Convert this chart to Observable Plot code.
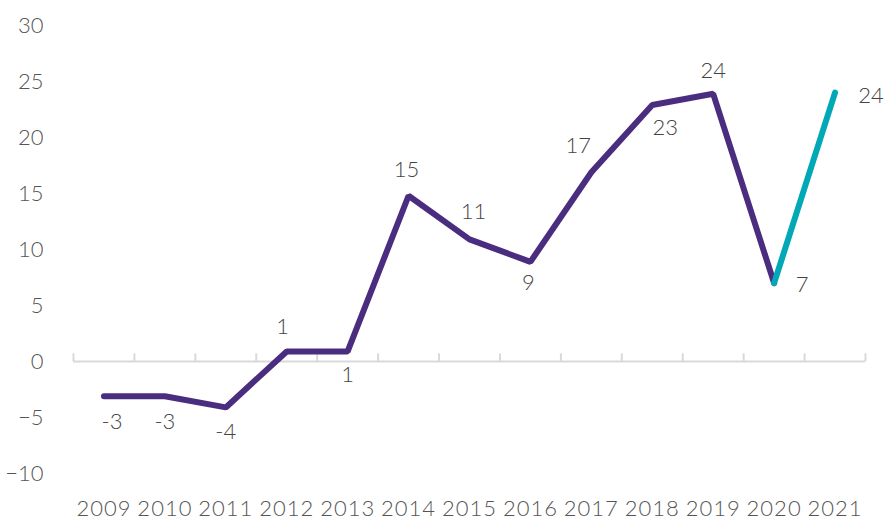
<!DOCTYPE html>
<html>
<head>
<meta charset="utf-8">
<script src="https://cdn.jsdelivr.net/npm/d3@7"></script>
<script src="https://cdn.jsdelivr.net/npm/@observablehq/plot@0.6"></script>
<style>
  html, body { margin: 0; padding: 0; background: #fff; }
  #chart svg { display: block; }
</style>
</head>
<body>
<div id="chart"></div>
<script>
const years = [2009, 2010, 2011, 2012, 2013, 2014, 2015, 2016, 2017, 2018, 2019, 2020, 2021];
const values = [-3.1, -3.1, -4.1, 0.9, 0.9, 14.8, 10.9, 8.9, 16.9, 22.9, 23.9, 7.0, 24.0];
const yTicks = [-10, -5, 0, 5, 10, 15, 20, 25, 30];
// label offsets (dx, dy) in pixels relative to each point
const labelOffsets = [[8, 26], [0, 26], [0, 25], [-4, -24], [0, 24], [-2, -26], [4, -27], [-2, 21], [-13, -26], [13, 23], [0, -23], [28, 2], [36, 3]];

const data = years.map((year, i) => ({year, value: values[i], i}));
const purple = data.filter(d => d.i <= 11);
const teal = data.filter(d => d.i >= 11);
const boundaries = d3.range(years.length + 1).map(k => years[0] - 0.5 + k);

const font = "Lato, 'Open Sans', sans-serif";

const labelMarks = data.map((d, i) => Plot.text([d], {
  x: "year", y: "value", text: v => String(Math.round(v.value)),
  dx: labelOffsets[i][0], dy: labelOffsets[i][1],
  fontSize: 22, fill: "#444", fontWeight: 300, textAnchor: "middle"
}));

const chart = Plot.plot({
  width: 887,
  height: 522,
  marginLeft: 73,
  marginRight: 22,
  marginTop: 25,
  marginBottom: 49,
  style: {fontFamily: font, fontSize: "22px", color: "#555", background: "#fff"},
  x: {domain: [years[0] - 0.5, years[years.length - 1] + 0.5]},
  y: {domain: [-10, 30]},
  marks: [
    Plot.axisY({ticks: yTicks, tickSize: 0, tickPadding: 30, label: null, fontSize: 22, fontWeight: 300, fill: "#555"}),
    Plot.axisX({ticks: years, tickSize: 0, tickPadding: 27, label: null, tickFormat: d => String(d), fontSize: 22, fontWeight: 300, fill: "#555", letterSpacing: 0}),
    Plot.ruleY([0], {stroke: "#d9d9d9", strokeWidth: 2}),
    Plot.ruleX(boundaries, {y1: 0, y2: 0.68, stroke: "#d9d9d9", strokeWidth: 2}),
    Plot.line(purple, {x: "year", y: "value", stroke: "#4b2d80", strokeWidth: 6, strokeLinecap: "round", strokeLinejoin: "miter"}),
    Plot.line(teal, {x: "year", y: "value", stroke: "#00a9b5", strokeWidth: 6, strokeLinecap: "round", strokeLinejoin: "miter"}),
    ...labelMarks
  ]
});
chart.querySelectorAll("[aria-label='x-axis tick label'] text").forEach(t => t.style.letterSpacing = "1px");
document.getElementById("chart").appendChild(chart);
</script>
</body>
</html>
